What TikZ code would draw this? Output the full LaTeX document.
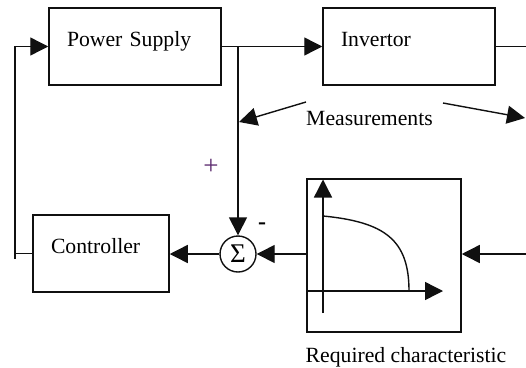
\documentclass[tikz,border=0pt]{standalone}
\usepackage{fontspec}
\setmainfont{Liberation Serif}
\usetikzlibrary{arrows.meta, positioning, calc}
\definecolor{tinta}{HTML}{101010}
\definecolor{morado}{HTML}{5B2A6E}
\tikzset{
  bloque/.style={rectangle, draw=tinta, line width=1.5pt, inner xsep=18pt, inner ysep=0pt,
                 text height=38pt, text depth=39pt, align=left, text width=#1},
  caja/.style={rectangle, draw=tinta, line width=1.5pt, minimum width=154pt, minimum height=153pt},
  suma/.style={circle, draw=tinta, line width=1.4pt, minimum size=36pt, inner sep=0pt,
               font=\fontsize{27}{28}\selectfont},
  etiq/.style={inner sep=0pt, anchor=base},
  arrow/.style={line width=1.4pt, draw=tinta, -{Triangle[length=18pt, width=18pt]}},
  linea/.style={line width=1.4pt, draw=tinta}
}

\begin{document}
\begin{tikzpicture}[x=1pt, y=-1pt, font=\fontsize{21.7}{26}\selectfont]
  \useasboundingbox (0,0) rectangle (526,367);
  % blocks
  \node (fuente) [bloque=136pt] at (135,46.5) {Power Supply};
  \node (invert) [bloque=136pt] at (409,46.5) {Invertor};
  \node (ctrl) [bloque=100pt] at (101,253.5) {Controller};
  \node (carac) [caja] at (384,255.5) {};
  \node (sigma) [suma] at (238,254) {Σ};
  \node (medidas) [etiq] at (369.5,125) {Measurements};
  \node (reqtxt) [etiq] at (406,362) {Required characteristic};
  \node (mas) [text=morado, inner sep=0pt, font=\fontsize{27}{28}\selectfont] at (211,167) {+};
  \node (menos) [inner sep=0pt, font=\fontsize{24}{26}\selectfont\bfseries] at (262,226) {-};
  % free ends
  \coordinate (rama) at (238,46.5);
  \coordinate (salida) at (526,46.5);
  \coordinate (entrada) at (526,254);
  \coordinate (fbk) at (15,259);
  \coordinate (m1a) at (306,102);
  \coordinate (m1b) at (239,122);
  \coordinate (m2a) at (443,103);
  \coordinate (m2b) at (525,118);
  % axes inside the characteristic
  \coordinate (ejeY0) at (323,313);
  \coordinate (ejeY1) at (323,179.5);
  \coordinate (ejeX0) at (307,291);
  \coordinate (ejeX1) at (443,291);
  \coordinate (curva0) at (323,216);
  \coordinate (curva1) at (409,291);
  % connectors
  \draw [arrow] (fuente.east) -- (invert.west);
  \draw [linea] (invert.east) -- (salida);
  \draw [arrow] (rama) -- (sigma.north);
  \draw [arrow] (entrada) -- (entrada -| carac.east);
  \draw [arrow] (sigma.east -| carac.west) -- (sigma.east);
  \draw [arrow] (sigma.west) -- (sigma.west -| ctrl.east);
  \draw [linea] (ctrl.west) -- (ctrl.west -| fbk);
  \draw [arrow] (fbk) |- (fuente.west);
  \draw [arrow] (m1a) -- (m1b);
  \draw [arrow] (m2a) -- (m2b);
  \draw [arrow] (ejeY0) -- (ejeY1);
  \draw [arrow] (ejeX0) -- (ejeX1);
  \draw [linea] (curva0) .. controls (385,222) and (409,240) .. (curva1);
\end{tikzpicture}
\end{document}
